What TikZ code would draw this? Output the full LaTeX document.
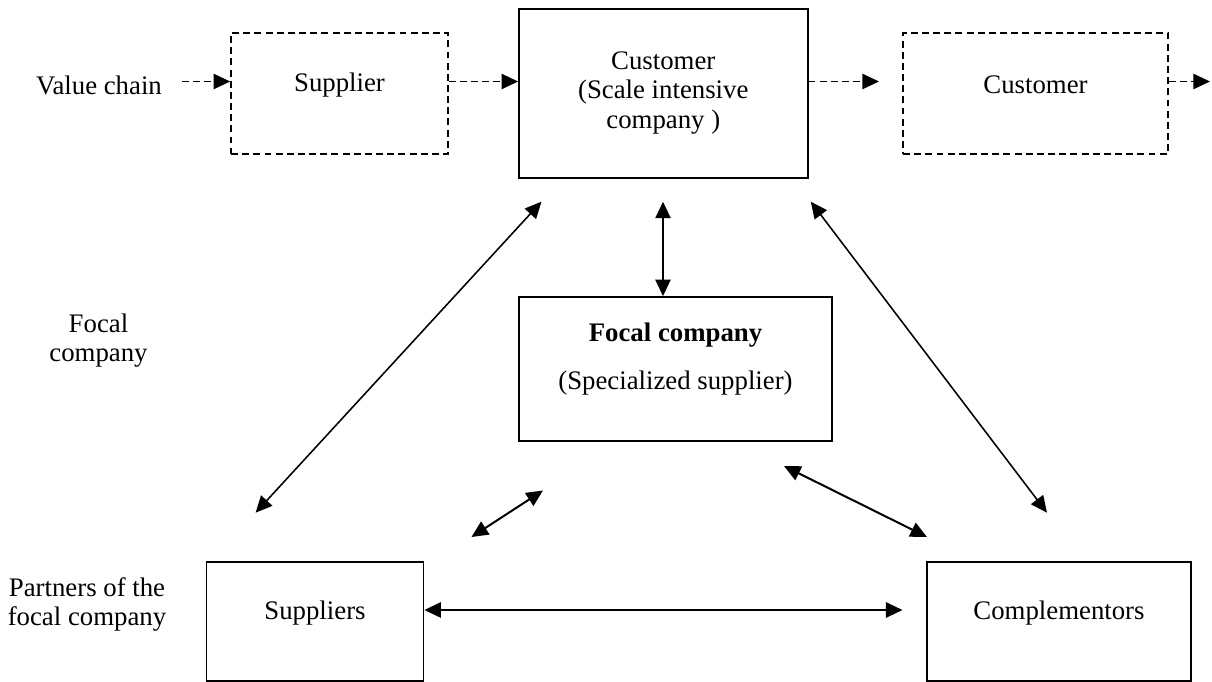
\documentclass[tikz,border=0pt]{standalone}
\usepackage{fontspec}
\setmainfont{Liberation Serif}
\usetikzlibrary{arrows.meta,positioning}
\tikzset{>={Triangle[length=7.4pt,width=6.8pt]}}

\begin{document}
\begin{tikzpicture}[x=0.448pt,y=-0.448pt]
	\tikzset{box/.style={draw, rectangle, line width=0.8pt, inner sep=0pt},
		dbox/.style={box, line width=0.75pt, dash pattern=on 3.1pt off 1.9pt},
		txt/.style={align=center, font=\fontsize{12}{13.2}\selectfont},
		link/.style={<->, line width=0.7pt},
		flow/.style={->, line width=0.8pt, dash pattern=on 3.1pt off 1.9pt}
	}
	\useasboundingbox (0,0) rectangle (1212,682);
	
	% value chain
	\node [dbox, minimum width=97.2pt, minimum height=54.2pt] (sup) at (339.5,93.5) {};
	\node [box, minimum width=129.3pt, minimum height=75.6pt] (cus) at (663.3,93.6) {};
	\node [dbox, minimum width=118.7pt, minimum height=54.2pt] (cusb) at (1035.5,93.5) {};
	\node [txt] (vc) at (99,85) {Value chain};
	\node [txt] (supt) at (339.5,85) {Supplier};
	\node [txt] (cust) at (663.3,93) {Customer\\(Scale intensive\\company )};
	\node [txt] (cusbt) at (1035.5,85) {Customer};
	
	% focal company
	\node [box, minimum width=140.2pt, minimum height=64.5pt] (foc) at (675.5,369) {};
	\node [txt] (foct) at (675.5,359) {\textbf{Focal company}\\[8pt](Specialized supplier)};
	\node [txt] (fcl) at (98.5,340.5) {Focal\\company};
	
	% partners
	\node [box, minimum width=97.2pt, minimum height=53.3pt] (sups) at (315,621.5) {};
	\node [box, minimum width=118.3pt, minimum height=53.3pt] (comp) at (1059,621.5) {};
	\node [txt] (supst) at (315,613) {Suppliers};
	\node [txt] (compt) at (1059,613) {Complementors};
	\node [txt] (pcl) at (87,604.5) {Partners of the\\focal company};
	
	% arrow ends
	\coordinate (vce) at (182,81.5);
	\coordinate (c1) at (879,81.5);
	\coordinate (c2) at (1210,81.5);
	\coordinate (a1) at (541.5,201.7);
	\coordinate (a2) at (255.6,512.7);
	\coordinate (v1) at (663,201.7);
	\coordinate (b1) at (810.8,201.7);
	\coordinate (b2) at (1047,512.7);
	\coordinate (s1) at (471.5,537);
	\coordinate (s2) at (543,490.5);
	\coordinate (r1) at (784,466);
	\coordinate (r2) at (927,537);
	\coordinate (h2) at (902.5,610);
	
	\draw [flow] (vce) -- (sup.west |- vce);
	\draw [flow] (sup.east |- vce) -- (cus.west |- vce);
	\draw [flow] (cus.east |- vce) -- (c1);
	\draw [flow] (cusb.east |- vce) -- (c2);
	
	\draw [link] (a2) -- (a1);
	\draw [link, line width=0.9pt] (v1) -- (v1 |- foc.north);
	\draw [link] (b1) -- (b2);
	\draw [link, line width=0.9pt] (s1) -- (s2);
	\draw [link, line width=0.9pt] (r1) -- (r2);
	\draw [link, line width=1pt] (sups.east |- h2) -- (h2);
\end{tikzpicture}
\end{document}
